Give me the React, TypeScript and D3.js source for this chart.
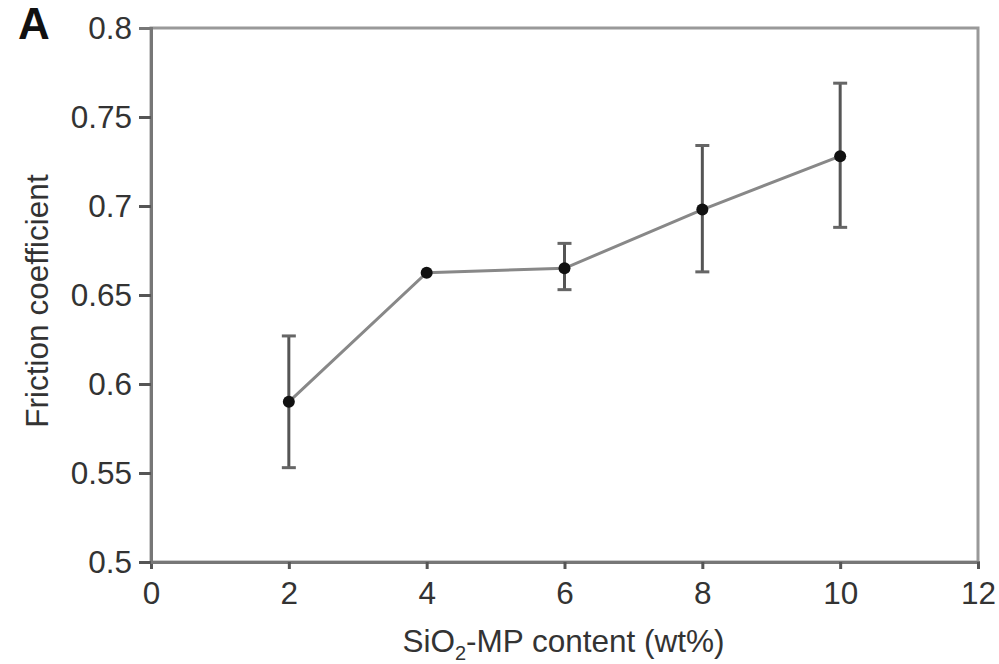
import { useRef, useEffect } from 'react';
import * as d3 from 'd3';

const contents = [2, 4, 6, 8, 10];
const friction = [0.59, 0.6625, 0.665, 0.698, 0.728];
const errUpper = [0.627, 0.6625, 0.679, 0.734, 0.769];
const errLower = [0.553, 0.6625, 0.653, 0.663, 0.688];
const xTicks = [0, 2, 4, 6, 8, 10, 12];
const yTicks = [0.5, 0.55, 0.6, 0.65, 0.7, 0.75, 0.8];

function App() {
  const svgRef = useRef<SVGSVGElement>(null);

  useEffect(() => {
    const width = 999;
    const height = 664;
    const margin = { top: 28, right: 21, bottom: 102, left: 151 };
    const innerWidth = width - margin.left - margin.right;
    const innerHeight = height - margin.top - margin.bottom;
    const font = 'Liberation Sans, Arial, sans-serif';
    const fs = '31.5px';

    const root = d3.select(svgRef.current);
    root.selectAll('*').remove();
    const svg = root
      .attr('width', width)
      .attr('height', height)
      .append('g')
      .attr('transform', `translate(${margin.left},${margin.top})`);

    const x = d3.scaleLinear().domain([0, 12]).range([0, innerWidth]);
    const y = d3.scaleLinear().domain([0.5, 0.8]).range([innerHeight, 0]);

    // frame
    svg.append('rect')
      .attr('width', innerWidth)
      .attr('height', innerHeight)
      .attr('fill', 'none')
      .attr('stroke', '#999')
      .attr('stroke-width', 3);

    const xAxis = svg.append('g')
      .attr('transform', `translate(0,${innerHeight})`)
      .call(d3.axisBottom(x).tickValues(xTicks).tickSize(7).tickPadding(13).tickFormat(d3.format('d')));
    const yAxis = svg.append('g')
      .call(d3.axisLeft(y).tickValues(yTicks).tickSize(12).tickPadding(7).tickFormat(d => String(+d)));

    [xAxis, yAxis].forEach(ax => {
      ax.select('.domain').attr('stroke', '#777').attr('stroke-width', 3);
      ax.selectAll('.tick line').attr('stroke', '#555').attr('stroke-width', 3);
      ax.selectAll('.tick text')
        .attr('fill', '#333')
        .style('font-family', font)
        .style('font-size', fs);
    });
    yAxis.selectAll('.tick').filter(d => d === 0.8).select('line').attr('stroke', '#777');

    const line = d3.line<number>()
      .x((d, i) => x(contents[i]))
      .y(d => y(d));

    svg.append('path')
      .datum(friction)
      .attr('fill', 'none')
      .attr('stroke', '#888')
      .attr('stroke-width', 3)
      .attr('d', line);

    const bars = svg.append('g');
    contents.forEach((c, i) => {
      if (errUpper[i] - errLower[i] < 0.002) return;
      const cx = x(c);
      bars.append('line')
        .attr('x1', cx).attr('x2', cx)
        .attr('y1', y(errUpper[i])).attr('y2', y(errLower[i]))
        .attr('stroke', '#555').attr('stroke-width', 3);
      [errUpper[i], errLower[i]].forEach(v => {
        bars.append('line')
          .attr('x1', cx - 7).attr('x2', cx + 7)
          .attr('y1', y(v)).attr('y2', y(v))
          .attr('stroke', '#666').attr('stroke-width', 3);
      });
    });

    svg.selectAll('circle')
      .data(friction)
      .enter()
      .append('circle')
      .attr('cx', (d, i) => x(contents[i]))
      .attr('cy', d => y(d))
      .attr('r', 6)
      .attr('fill', '#111');

    // axis titles
    const xt = svg.append('text')
      .attr('x', innerWidth / 2 - 1)
      .attr('y', innerHeight + 90)
      .attr('text-anchor', 'middle')
      .attr('fill', '#333')
      .style('font-family', font)
      .style('font-size', fs);
    xt.append('tspan').text('SiO');
    xt.append('tspan').text('2').attr('dy', 8).style('font-size', '20px');
    xt.append('tspan').text('-MP content (wt%)').attr('dy', -8);

    root.append('text')
      .attr('transform', `translate(48,301) rotate(-90)`)
      .attr('text-anchor', 'middle')
      .attr('fill', '#333')
      .style('font-family', font)
      .style('font-size', fs)
      .text('Friction coefficient');

    root.append('text')
      .attr('x', 18)
      .attr('y', 39)
      .attr('fill', '#111')
      .style('font-family', font)
      .style('font-weight', 'bold')
      .style('font-size', '44px')
      .text('A');
  }, []);

  return (
    <div style={{ position: 'absolute', left: 0, top: 0 }}>
      <svg ref={svgRef}></svg>
    </div>
  );
}

export default App;
